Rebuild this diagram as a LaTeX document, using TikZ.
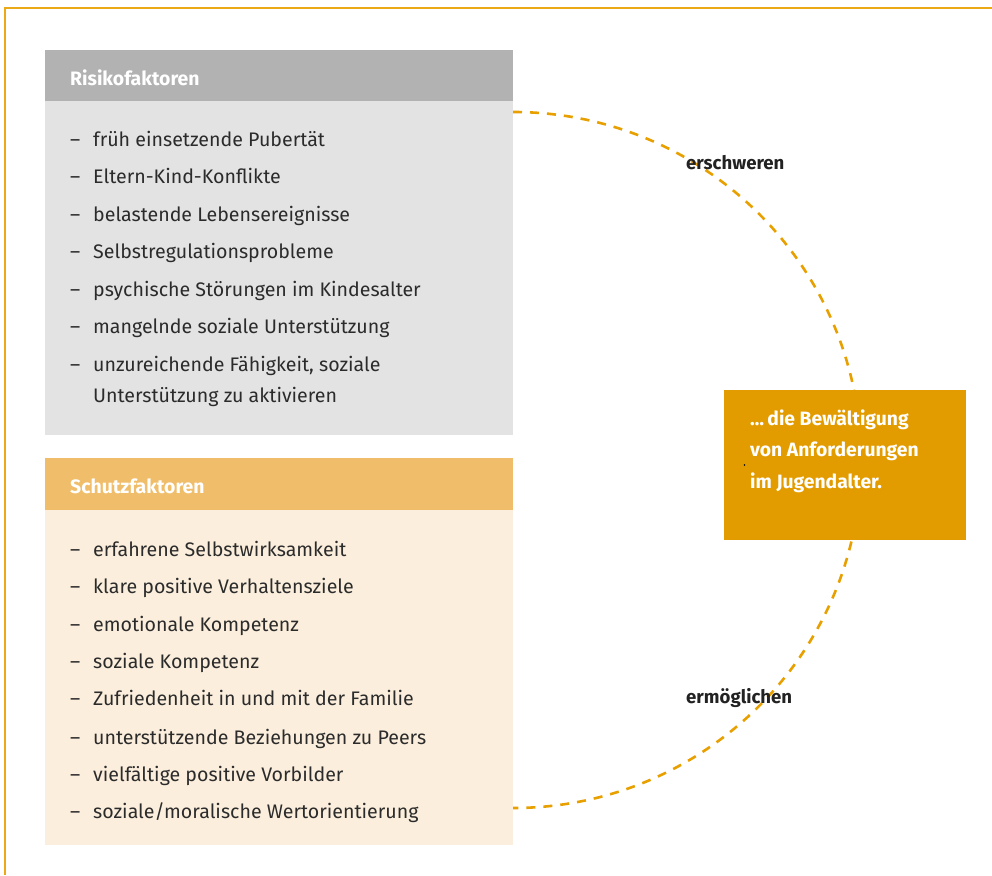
\documentclass[tikz,border=0pt]{standalone}
\usepackage{fontspec}
\setmainfont{Fira Sans}
\definecolor{riskhead}{HTML}{B2B2B2}
\definecolor{riskbody}{HTML}{E3E3E3}
\definecolor{schutzhead}{HTML}{F0BE6A}
\definecolor{schutzbody}{HTML}{FBEEDC}
\definecolor{boxorange}{HTML}{E39C00}
\definecolor{framecol}{HTML}{EBA817}
\definecolor{arccol}{HTML}{E8A000}
\definecolor{txt}{HTML}{2B2B2B}
\begin{document}
\begin{tikzpicture}[x=1pt,y=1pt,
  item/.style={anchor=base west,inner sep=0pt,text=txt,font=\fontsize{19.6}{23}\selectfont},
  headtext/.style={anchor=base west,inner sep=0pt,text=white,font=\fontsize{19.4}{23}\selectfont\bfseries},
  lbl/.style={anchor=base west,inner sep=0pt,text=txt!80!black,font=\fontsize{18.6}{22}\selectfont\bfseries},
  boxtext/.style={anchor=base west,inner sep=0pt,text=white,font=\fontsize{19.3}{23}\selectfont\bfseries}]
\newcommand{\dashitem}{\makebox[23pt][l]{–}}
\useasboundingbox (0,0) rectangle (992,875);
% frame
\draw[framecol,line width=1.3pt] (5,0) -- (5,867) -- (992,867);
% panels
\fill[riskhead] (45,774) rectangle (513,825);
\fill[riskbody] (45,440) rectangle (513,774);
\fill[schutzhead] (45,365) rectangle (513,417);
\fill[schutzbody] (45,30) rectangle (513,365);
% dashed arc
\coordinate (arcstart) at (513,763);
\draw[arccol,line width=2.6pt,dash pattern=on 9pt off 8pt] (arcstart) arc[start angle=90,end angle=-90,radius=348] coordinate (arcend);
% result box
\node[fill=boxorange,minimum width=242pt,minimum height=150pt,inner sep=0pt,anchor=south west] (result) at (724,335) {};
\fill[black] (744.5,410) circle (0.9pt);
\node[boxtext] (res1) at (750,449) {…\,die Bewältigung};
\node[boxtext] (res2) at (750,418) {von Anforderungen};
\node[boxtext] (res3) at (750,386) {im Jugendalter.};
% labels
\node[lbl] (erschw) at (686,705) {erschweren};
\node[lbl] (ermoegl) at (686,171) {ermöglichen};
% headers
\node[headtext] (riskh) at (70,789) {Risikofaktoren};
\node[headtext] (schutzh) at (70,381) {Schutzfaktoren};
% risk items
\node[item] (r1) at (70,728) {\dashitem früh einsetzende Pubertät};
\node[item] (r2) at (70,691) {\dashitem Eltern-Kind-Konflikte};
\node[item] (r3) at (70,653) {\dashitem belastende Lebensereignisse};
\node[item] (r4) at (70,616) {\dashitem Selbstregulationsprobleme};
\node[item] (r5) at (70,578) {\dashitem psychische Störungen im Kindesalter};
\node[item] (r6) at (70,541) {\dashitem mangelnde soziale Unterstützung};
\node[item] (r7) at (70,503) {\dashitem unzureichende Fähigkeit, soziale};
\node[item] (r7b) at (93,472) {Unterstützung zu aktivieren};
% schutz items
\node[item] (s1) at (70,318) {\dashitem erfahrene Selbstwirksamkeit};
\node[item] (s2) at (70,281) {\dashitem klare positive Verhaltensziele};
\node[item] (s3) at (70,243) {\dashitem emotionale Kompetenz};
\node[item] (s4) at (70,206) {\dashitem soziale Kompetenz};
\node[item] (s5) at (70,169) {\dashitem Zufriedenheit in und mit der Familie};
\node[item] (s6) at (70,131) {\dashitem unterstützende Beziehungen zu Peers};
\node[item] (s7) at (70,94) {\dashitem vielfältige positive Vorbilder};
\node[item] (s8) at (70,57) {\dashitem soziale/moralische Wertorientierung};
\end{tikzpicture}
\end{document}
